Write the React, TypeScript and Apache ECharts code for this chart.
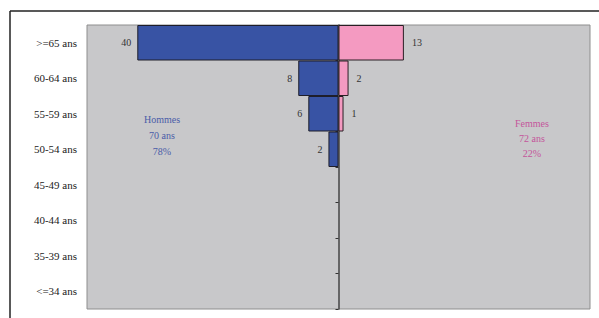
import React, { useEffect, useRef } from "react";
import * as echarts from "echarts";

const categories = [">=65 ans", "60-64 ans", "55-59 ans", "50-54 ans", "45-49 ans", "40-44 ans", "35-39 ans", "<=34 ans"];
const hommes = [40, 8, 6, 2, 0, 0, 0, 0];
const femmes = [13, 2, 1, 0, 0, 0, 0, 0];
const hommesNote = ["Hommes", "70 ans", "78%"];
const femmesNote = ["Femmes", "72 ans", "22%"];

const SERIF = "'Liberation Serif', 'DejaVu Serif', serif";

export default function App() {
  const ref = useRef<HTMLDivElement>(null);
  useEffect(() => {
    if (!ref.current) return;
    const chart = echarts.init(ref.current, null, { renderer: "svg" });
    const labelFmt = (p: any) => (p.value == null || p.value === 0 ? "" : String(Math.abs(p.value)));
    chart.setOption({
      animation: false,
      backgroundColor: "#ffffff",
      grid: {
        left: 87, right: 9, top: 25, bottom: 9,
        show: true, backgroundColor: "#C8C8CA", borderColor: "#8E8E8E", borderWidth: 1,
      },
      xAxis: {
        type: "value", min: -50, max: 50, interval: 10, show: false,
        splitLine: { show: false },
      },
      yAxis: [
        {
          type: "category", data: categories, inverse: true,
          axisLine: { show: true, onZero: true, lineStyle: { color: "#444", width: 1.5 } },
          axisTick: { show: true, length: 3, lineStyle: { color: "#333", width: 1 } },
          axisLabel: { show: false },
          splitLine: { show: false },
        },
        {
          type: "category", data: categories, inverse: true, position: "left",
          axisLine: { show: false, onZero: false },
          axisTick: { show: false },
          axisLabel: { show: true, fontFamily: SERIF, fontSize: 11, color: "#222", margin: 10 },
          splitLine: { show: false },
        },
      ],
      series: [
        {
          name: "Hommes", type: "bar", yAxisIndex: 0,
          data: hommes.map((v) => (v === 0 ? null : -v)),
          barGap: "-100%", barCategoryGap: 0,
          itemStyle: { color: "#3853A4", borderColor: "#1E1E2A", borderWidth: 1 },
          label: { show: true, position: "left", distance: 6, formatter: labelFmt, fontFamily: SERIF, fontSize: 10, color: "#333" },
        },
        {
          name: "Femmes", type: "bar", yAxisIndex: 0,
          data: femmes.map((v) => (v === 0 ? null : v)),
          barGap: "-100%", barCategoryGap: 0,
          itemStyle: { color: "#F49AC1", borderColor: "#2A1E24", borderWidth: 1 },
          label: { show: true, position: "right", distance: 8, formatter: labelFmt, fontFamily: SERIF, fontSize: 10, color: "#333" },
        },
      ],
      graphic: [
        { type: "line", shape: { x1: 10, y1: 11, x2: 599, y2: 11 }, style: { stroke: "#222", lineWidth: 1.5 } },
        { type: "line", shape: { x1: 10, y1: 11, x2: 10, y2: 318 }, style: { stroke: "#222", lineWidth: 1.5 } },
        ...hommesNote.map((t, i) => ({
          type: "text", x: 162, y: 119 + i * 16,
          style: { text: t, fill: "#4A5CA8", font: `10px ${SERIF}`, textAlign: "center", textVerticalAlign: "middle" },
        })),
        ...femmesNote.map((t, i) => ({
          type: "text", x: 532, y: 123 + i * 15,
          style: { text: t, fill: "#C4559B", font: `10px ${SERIF}`, textAlign: "center", textVerticalAlign: "middle" },
        })),
      ],
    });
    return () => chart.dispose();
  }, []);
  return <div ref={ref} style={{ position: "absolute", left: 0, top: 0, width: 599, height: 318 }} />;
}
